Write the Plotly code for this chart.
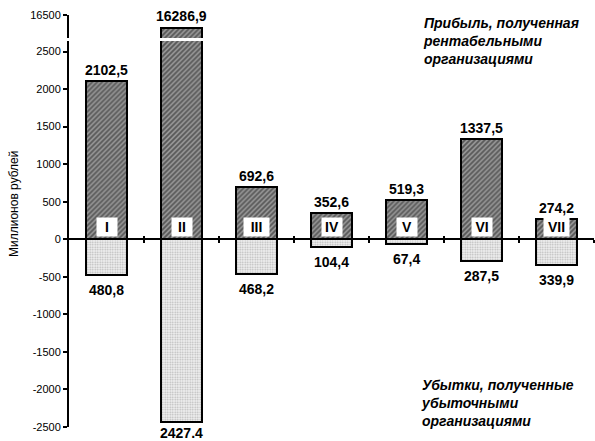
import plotly.graph_objects as go

categories = ["I", "II", "III", "IV", "V", "VI", "VII"]
profit = [2102.5, 16286.9, 692.6, 352.6, 519.3, 1337.5, 274.2]
loss = [480.8, 2427.4, 468.2, 104.4, 67.4, 287.5, 339.9]
profit_labels = ["2102,5", "16286,9", "692,6", "352,6", "519,3", "1337,5", "274,2"]
loss_labels = ["480,8", "2427.4", "468,2", "104,4", "67,4", "287,5", "339,9"]
y_ticks = [-2500, -2000, -1500, -1000, -500, 0, 500, 1000, 1500, 2000, 2500]
y_ticktext = [str(v) for v in y_ticks]
top_tick = [16500]

FONT = "Liberation Sans, Arial, sans-serif"
W, H = 595, 441
ML, MR, MT, MB = 69, 1, 15, 14
PH = H - MT - MB

main_range = [-2500, 2640]
main_dom = [0, (427 - 41) / PH]
top_range = [16123, 16500]
top_dom = [(427 - 38) / PH, 1.0]
zero_frac = main_dom[0] + (0 - main_range[0]) / (main_range[1] - main_range[0]) * (main_dom[1] - main_dom[0])

xs = list(range(len(categories)))
bw = 0.54

pos_marker = dict(color="#8a8a8a", line=dict(color="black", width=2),
                  pattern=dict(shape="/", fgcolor="#1a1a1a", bgcolor="#969696", size=3.5, solidity=0.5))
neg_marker = dict(color="white", line=dict(color="black", width=2),
                  pattern=dict(shape=".", fgcolor="#7a7a7a", bgcolor="#f2f2f2", size=2.5, solidity=0.4))

fig = go.Figure()
fig.add_trace(go.Bar(x=xs, y=profit, width=bw, marker=pos_marker, xaxis="x", yaxis="y",
                     hovertext=categories, showlegend=False))
fig.add_trace(go.Bar(x=xs, y=[-v for v in loss], width=bw, marker=neg_marker, xaxis="x", yaxis="y",
                     hovertext=categories, showlegend=False))
# top segment of the broken axis (only bar II reaches it)
big = [p if p > main_range[1] else None for p in profit]
fig.add_trace(go.Bar(x=xs, y=big, width=bw, marker=pos_marker, xaxis="x", yaxis="y2",
                     showlegend=False))

ann = []
for i, (p, lab) in enumerate(zip(profit, profit_labels)):
    if p > main_range[1]:
        ann.append(dict(x=i, y=p, xref="x", yref="y2", text="<b>%s</b>" % lab, showarrow=False,
                        yanchor="middle", yshift=12, font=dict(size=14, family=FONT, color="black")))
    else:
        ann.append(dict(x=i, y=p, xref="x", yref="y", text="<b>%s</b>" % lab, showarrow=False,
                        yanchor="middle", yshift=11, font=dict(size=14, family=FONT, color="black")))
for i, (l, lab) in enumerate(zip(loss, loss_labels)):
    ann.append(dict(x=i, y=-l, xref="x", yref="y", text="<b>%s</b>" % lab, showarrow=False,
                    yanchor="middle", yshift=-11 if l > 2000 else -15,
                    font=dict(size=14, family=FONT, color="black")))
for i, c in enumerate(categories):
    ann.append(dict(x=i, y=160, xref="x", yref="y", text="<b>%s</b>" % c, showarrow=False,
                    yanchor="middle", bgcolor="white", borderpad=1,
                    width=23 if len(c) > 2 else 18, height=16,
                    font=dict(size=14, family=FONT, color="black")))

ann.append(dict(x=(14 - ML) / (W - ML - MR), y=(427 - 204) / PH, xref="paper", yref="paper",
                text="Миллионов рублей", textangle=-90, showarrow=False,
                xanchor="center", yanchor="middle", font=dict(size=12, family=FONT, color="black")))
ann.append(dict(x=(421 - ML) / (W - ML - MR), y=(427 - 41) / PH, xref="paper", yref="paper",
                text="<b><i>Прибыль, полученная<br>рентабельными<br>организациями</i></b>",
                showarrow=False, align="left", xanchor="left", yanchor="middle",
                font=dict(size=14, family=FONT, color="black")))
ann.append(dict(x=(419 - ML) / (W - ML - MR), y=(427 - 403) / PH, xref="paper", yref="paper",
                text="<b><i>Убытки, полученные<br>убыточными<br>организациями</i></b>",
                showarrow=False, align="left", xanchor="left", yanchor="middle",
                font=dict(size=14, family=FONT, color="black")))

boundaries = [i + 0.5 for i in xs]

fig.update_layout(
    width=W, height=H,
    margin=dict(l=ML, r=MR, t=MT, b=MB, pad=0),
    paper_bgcolor="white", plot_bgcolor="white",
    barmode="relative", bargap=0,
    font=dict(family=FONT, color="black"),
    xaxis=dict(range=[-0.5, 6.5], anchor="free", position=zero_frac, showgrid=False, zeroline=False,
               showline=True, linecolor="black", linewidth=2,
               tickmode="array", tickvals=boundaries, ticks="outside", ticklen=3, tickwidth=2,
               tickcolor="black", showticklabels=False, fixedrange=True),
    xaxis2=dict(range=[-0.5, 6.5], overlaying="x", anchor="free", position=zero_frac, showgrid=False,
                zeroline=False, showline=False,
                tickmode="array", tickvals=boundaries, ticks="inside", ticklen=3, tickwidth=2,
                tickcolor="black", showticklabels=False),
    yaxis=dict(range=main_range, domain=main_dom, anchor="x", showgrid=False, zeroline=False,
               showline=True, linecolor="black", linewidth=2,
               tickmode="array", tickvals=y_ticks, ticktext=y_ticktext,
               ticks="outside", ticklen=4, tickwidth=2, tickcolor="black",
               tickfont=dict(size=11, family=FONT, color="black")),
    yaxis2=dict(range=top_range, domain=top_dom, anchor="x", showgrid=False, zeroline=False,
                showline=True, linecolor="black", linewidth=2,
                tickmode="array", tickvals=top_tick, ticktext=[str(v) for v in top_tick],
                ticks="outside", ticklen=4, tickwidth=2, tickcolor="black",
                tickfont=dict(size=11, family=FONT, color="black")),
    annotations=ann,
)
# dummy trace to activate xaxis2
fig.add_trace(go.Scatter(x=[None], y=[None], xaxis="x2", yaxis="y", showlegend=False))

fig.write_html("out.html", config={"displayModeBar": False},
               post_script="document.body.style.margin='0';document.body.style.padding='0';")
